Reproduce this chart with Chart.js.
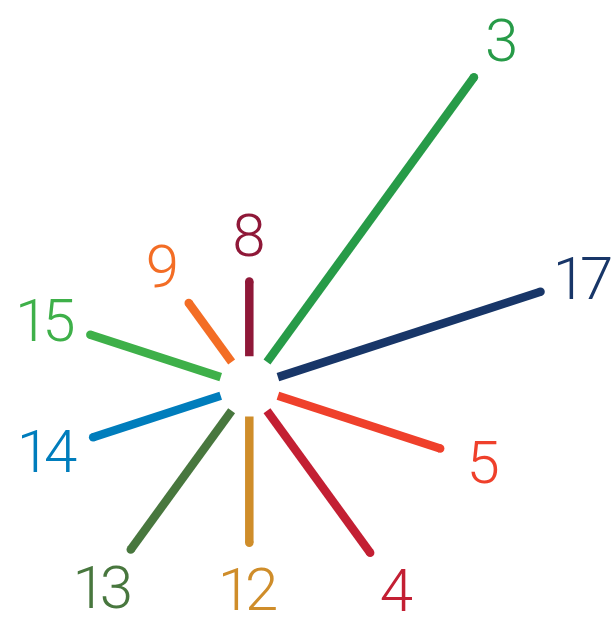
<!DOCTYPE html>
<html lang="en">
<head>
    <meta charset="UTF-8">
    <title>Goal spokes</title>
    <script src="https://cdn.jsdelivr.net/npm/chart.js"></script>
    <style>
        body {
            margin: 0;
            background: #ffffff;
            overflow: hidden;
        }
        .wrap {
            width: 614px;
            height: 620px;
            position: relative;
        }
    </style>
</head>
<body>
    <div class="wrap">
        <canvas id="spokes"></canvas>
    </div>
    <script>
        // goals, clockwise from the top
        const goals = ['8', '3', '17', '5', '4', '12', '13', '14', '15', '9'];
        // spoke length beyond the inner ring
        const lengths = [7.6, 35.7, 28.0, 17.3, 17.8, 12.8, 17.4, 13.6, 13.9, 7.4];
        const colors = ['#8F1838', '#279B48', '#183668', '#EF402B', '#C31F33',
                        '#CF8D2A', '#48773E', '#007DBC', '#3EB049', '#F36D25'];

        const innerR = 3.05;
        const step = 360 / goals.length;

        function polar(i, r) {
            const a = i * step * Math.PI / 180;
            return { x: r * Math.sin(a), y: r * Math.cos(a) };
        }

        const datasets = goals.map((g, i) => ({
            label: g,
            data: [polar(i, innerR), polar(i, innerR + lengths[i])],
            showLine: true,
            borderColor: colors[i],
            borderWidth: 8.5,
            borderCapStyle: 'butt',
            pointRadius: ctx => ctx.dataIndex === 1 ? 4.25 : 0,
            pointBackgroundColor: colors[i],
            pointBorderWidth: 0,
            pointHoverRadius: 0
        }));

        const labelPlugin = {
            id: 'goalLabels',
            afterDatasetsDraw(chart) {
                const { ctx, scales } = chart;
                ctx.save();
                ctx.font = '300 60px Roboto, sans-serif';
                ctx.textAlign = 'left';
                ctx.textBaseline = 'alphabetic';
                goals.forEach((g, i) => {
                    const tip = polar(i, innerR + lengths[i]);
                    const px = scales.x.getPixelForValue(tip.x);
                    const py = scales.y.getPixelForValue(tip.y);
                    const a = i * step * Math.PI / 180;
                    const off = 46;
                    const cx = px + off * Math.sin(a);
                    const cy = py - off * Math.cos(a);
                    ctx.fillStyle = colors[i];
                    // tighter figures for two-digit goals
                    ctx.letterSpacing = g.length > 1 ? '-6px' : '0px';
                    const m = ctx.measureText(g);
                    const inkW = m.actualBoundingBoxLeft + m.actualBoundingBoxRight;
                    const x = cx - inkW / 2 + m.actualBoundingBoxLeft;
                    const y = cy + (m.actualBoundingBoxAscent - m.actualBoundingBoxDescent) / 2;
                    ctx.fillText(g, x, y);
                });
                ctx.restore();
            }
        };

        new Chart(document.getElementById('spokes'), {
            type: 'scatter',
            data: { datasets: datasets },
            options: {
                responsive: true,
                maintainAspectRatio: false,
                animation: false,
                layout: { padding: 0 },
                plugins: {
                    legend: { display: false },
                    tooltip: { enabled: false }
                },
                scales: {
                    x: { display: false, min: -24.85, max: 36.55 },
                    y: { display: false, min: -23.25, max: 38.75 }
                }
            },
            plugins: [labelPlugin]
        });
    </script>
</body>
</html>
